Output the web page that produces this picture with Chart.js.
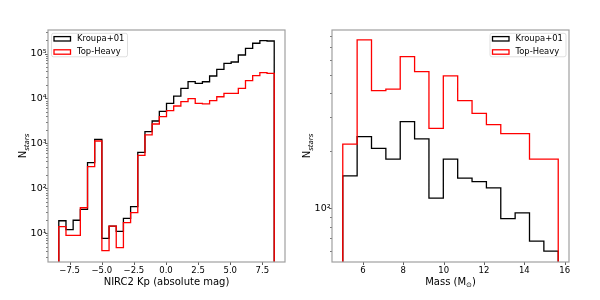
<!DOCTYPE html>
<html><head><meta charset="utf-8">
<script src="https://cdn.jsdelivr.net/npm/chart.js@4"></script>
<style>
html,body{margin:0;padding:0;background:#fff;}
#wrap{position:relative;width:600px;height:300px;background:#fff;}
.c{position:absolute;top:0;width:300px;height:300px;}
</style></head><body>
<div id="wrap">
<div class="c" style="left:0"><canvas id="left" width="300" height="300"></canvas></div>
<div class="c" style="left:300px"><canvas id="right" width="300" height="300"></canvas></div>
</div>
<script>
// ---------- data ----------
const seriesLabels = ['Kroupa+01', 'Top-Heavy'];
const seriesColors = ['#000000', '#ff0000'];

const magEdges = [-8.340,-7.781,-7.223,-6.664,-6.105,-5.547,-4.988,-4.429,-3.870,-3.312,
  -2.753,-2.194,-1.636,-1.077,-0.518,0.041,0.599,1.158,1.717,2.275,
  2.834,3.393,3.951,4.510,5.069,5.628,6.186,6.745,7.304,7.862,8.421];
const magKroupa = [19,12,19.5,34,372,1230,7.7,14.5,11,21.5,
  39,634,1820,3150,5170,7800,11300,16800,23600,21700,
  23500,31600,44500,60500,64700,92600,130000,169000,193000,190000];
const magTopHeavy = [14,9,9,37,303,1130,4.1,14.5,4.8,17.2,
  28.7,540,1540,2700,3930,5340,6790,8480,9870,7800,
  7540,8910,10900,13000,13000,16800,24800,32100,37400,36200];

const massEdges = [5.000,5.712,6.424,7.136,7.848,8.560,9.272,9.984,10.696,11.408,
  12.120,12.832,13.544,14.256,14.968,15.680];
const massKroupa = [148,237,206,181,284,231,113,181,144,138,128,88.3,94.8,67.4,59.7];
const massTopHeavy = [217,760,413,420,622,519,262,493,366,314,274,246,246,181,181];

const magTicks = [-7.5,-5,-2.5,0,2.5,5,7.5];
const massTicks = [6,8,10,12,14,16];
const magLogTicks = [10,100,1000,10000,100000];
const massLogTicks = [100];

const magXLimits = [-9.18, 9.26];
const magYLimits = [2.296, 333400];
const massXLimits = [4.466, 16.214];
const massYLimits = [52.4, 857];

const yTitleParts = [['N',10,false,0],['stars',7,true,2.5]];
const magTitleParts = [['NIRC2 Kp (absolute mag)',10,false,0]];
const massTitleParts = [['Mass (M',10,false,0],['\u2299',7,false,2],[')',10,false,0]];

// ---------- helpers ----------
const FONT = 'DejaVu Sans';
Chart.defaults.font.family = FONT;
Chart.defaults.font.size = 8.5;
Chart.defaults.color = '#000';
Chart.defaults.animation = false;

function stepPoints(edges, counts, floor) {
  const pts = [{x: edges[0], y: floor}];
  counts.forEach((c, i) => pts.push({x: edges[i], y: c}));
  pts.push({x: edges[edges.length - 1], y: counts[counts.length - 1]});
  pts.push({x: edges[edges.length - 1], y: floor});
  return pts;
}
const SUP = {'0':'\u2070','1':'\u00b9','2':'\u00b2','3':'\u00b3','4':'\u2074','5':'\u2075','6':'\u2076','7':'\u2077','8':'\u2078','9':'\u2079'};
function powLabel(v) {
  const e = Math.round(Math.log10(v));
  return '10' + String(e).split('').map(d => SUP[d]).join('');
}
function drawParts(ctx, parts, x, y, align) {
  let total = 0;
  const w = parts.map(p => { ctx.font = (p[2] ? 'italic ' : '') + p[1] + 'px "' + FONT + '"'; const m = ctx.measureText(p[0]).width; total += m; return m; });
  let cx = align === 'center' ? x - total / 2 : x;
  ctx.textAlign = 'left';
  ctx.textBaseline = 'alphabetic';
  parts.forEach((p, i) => {
    ctx.font = (p[2] ? 'italic ' : '') + p[1] + 'px "' + FONT + '"';
    ctx.fillText(p[0], cx, y + p[3]);
    cx += w[i];
  });
}

const decorPlugin = {
  id: 'decor',
  afterDraw(chart, args, o) {
    const {ctx, chartArea: a, scales} = chart;
    ctx.save();
    // tick marks
    ctx.strokeStyle = '#333';
    ctx.lineWidth = 0.8;
    ctx.beginPath();
    o.xTicks.forEach(v => { const px = Math.round(scales.x.getPixelForValue(v)) + 0.5; ctx.moveTo(px, a.bottom); ctx.lineTo(px, a.bottom + 3); });
    const ymin = scales.y.min, ymax = scales.y.max;
    for (let n = Math.floor(Math.log10(ymin)); n <= Math.ceil(Math.log10(ymax)); n++) {
      for (let k = 1; k <= 9; k++) {
        const v = k * Math.pow(10, n);
        if (v < ymin || v > ymax) continue;
        const py = Math.round(scales.y.getPixelForValue(v)) + 0.5;
        ctx.moveTo(a.left - (k === 1 ? 3 : 1.8), py); ctx.lineTo(a.left, py);
      }
    }
    ctx.stroke();
    // frame
    ctx.strokeStyle = '#a0a0a0';
    ctx.lineWidth = 1.2;
    ctx.strokeRect(a.left, a.top, a.right - a.left, a.bottom - a.top);
    // legend
    const bx = o.legendLeft ? a.left + 3.5 : a.right - 3 - 76;
    const by = a.top + 3.3, bw = 76, bh = 23.5;
    ctx.globalAlpha = 0.8;
    ctx.fillStyle = '#fff';
    ctx.strokeStyle = '#cccccc';
    ctx.lineWidth = 0.8;
    ctx.beginPath();
    ctx.roundRect(bx, by, bw, bh, 2);
    ctx.fill(); ctx.stroke();
    ctx.globalAlpha = 1;
    chart.data.datasets.forEach((ds, i) => {
      const cy = by + 5.5 + i * 13.2;
      ctx.strokeStyle = ds.borderColor;
      ctx.lineWidth = 1.3;
      ctx.strokeRect(bx + 2.5, cy - 2.2, 16.5, 4.4);
      ctx.fillStyle = '#000';
      ctx.font = '8.4px "' + FONT + '"';
      ctx.textAlign = 'left';
      ctx.textBaseline = 'middle';
      ctx.fillText(ds.label, bx + 25.5, cy + 0.3);
    });
    // axis titles
    ctx.fillStyle = '#000';
    drawParts(ctx, o.xTitle, (a.left + a.right) / 2, a.bottom + 22.5, 'center');
    ctx.translate(a.left - 22, (a.top + a.bottom) / 2);
    ctx.rotate(-Math.PI / 2);
    drawParts(ctx, o.yTitle, 0, 0, 'center');
    ctx.restore();
  }
};

function makeChart(id, edges, kroupa, top, xLim, yLim, xTicks, yTicks, padRight, yWidth, xTitle, legendLeft) {
  const floor = yLim[0] / 10;
  return new Chart(document.getElementById(id), {
    type: 'line',
    data: {
      datasets: [
        {label: seriesLabels[0], data: stepPoints(edges, kroupa, floor), borderColor: seriesColors[0], order: 2},
        {label: seriesLabels[1], data: stepPoints(edges, top, floor), borderColor: seriesColors[1], order: 1}
      ]
    },
    options: {
      responsive: false,
      devicePixelRatio: 1,
      parsing: true,
      layout: {padding: {top: 30, right: padRight, left: 0, bottom: 0}},
      elements: {
        line: {stepped: 'before', borderWidth: 1.3, fill: false, tension: 0},
        point: {radius: 0, hoverRadius: 0}
      },
      datasets: {line: {clip: 0}},
      plugins: {
        legend: {display: false},
        tooltip: {enabled: false},
        decor: {xTicks: xTicks, xTitle: xTitle, yTitle: yTitleParts, legendLeft: legendLeft}
      },
      scales: {
        x: {
          type: 'linear', min: xLim[0], max: xLim[1],
          grid: {display: false, drawTicks: false},
          border: {display: false},
          afterBuildTicks: s => { s.ticks = xTicks.map(v => ({value: v})); },
          afterFit: s => { s.height = 38; },
          ticks: {
            padding: 4, maxRotation: 0, autoSkip: false,
            font: {size: 8.5},
            callback: v => v.toFixed(Number.isInteger(v) && xTicks.every(t => Number.isInteger(t)) ? 0 : 1).replace('-', '\u2212')
          }
        },
        y: {
          type: 'logarithmic', min: yLim[0], max: yLim[1],
          grid: {display: false, drawTicks: false},
          border: {display: false},
          afterBuildTicks: s => { s.ticks = yTicks.map(v => ({value: v})); },
          afterFit: s => { s.width = yWidth; },
          ticks: {padding: 1.5, autoSkip: false, font: {size: 9.5}, callback: v => powLabel(v)}
        }
      }
    },
    plugins: [decorPlugin]
  });
}

makeChart('left', magEdges, magKroupa, magTopHeavy, magXLimits, magYLimits, magTicks, magLogTicks, 15, 48, magTitleParts, true);
makeChart('right', massEdges, massKroupa, massTopHeavy, massXLimits, massYLimits, massTicks, massLogTicks, 31, 32, massTitleParts, false);
</script>
</body></html>
